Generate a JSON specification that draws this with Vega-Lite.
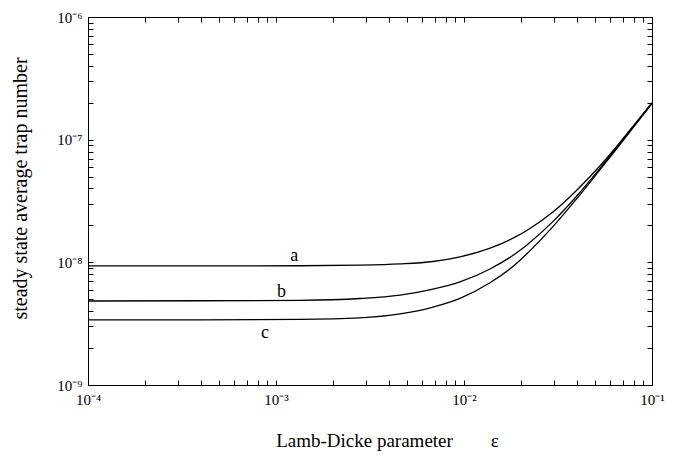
{
  "$schema": "https://vega.github.io/schema/vega-lite/v6.json",
  "width": 564,
  "height": 368,
  "autosize": "none",
  "padding": {"left": 88, "top": 17, "right": 30, "bottom": 71},
  "background": "white",
  "config": {
    "view": {"stroke": null},
    "font": "Liberation Serif",
    "axis": {
      "domainColor": "black",
      "domainWidth": 1,
      "tickColor": "black",
      "tickWidth": 1,
      "tickSize": -5,
      "grid": false,
      "labelFont": "Liberation Serif",
      "labelFontSize": 15,
      "labelColor": "black",
      "labelOverlap": false,
      "labelBound": false,
      "labelFlush": false,
      "titleFont": "Liberation Serif",
      "titleFontSize": 19,
      "titleFontWeight": "normal",
      "titleColor": "black"
    }
  },
  "datasets": {
    "curves": [
      {"s": "a", "eps": 0.0001, "n": 9.35e-9},
      {"s": "a", "eps": 0.000394, "n": 9.35e-9},
      {"s": "a", "eps": 0.00134, "n": 9.38e-9},
      {"s": "a", "eps": 0.0028, "n": 9.48e-9},
      {"s": "a", "eps": 0.00457, "n": 9.7e-9},
      {"s": "a", "eps": 0.00684, "n": 1.016e-8},
      {"s": "a", "eps": 0.00952, "n": 1.109e-8},
      {"s": "a", "eps": 0.01375, "n": 1.303e-8},
      {"s": "a", "eps": 0.01866, "n": 1.603e-8},
      {"s": "a", "eps": 0.0216, "n": 1.82e-8},
      {"s": "a", "eps": 0.0297, "n": 2.57e-8},
      {"s": "a", "eps": 0.0399, "n": 3.89e-8},
      {"s": "a", "eps": 0.0528, "n": 6.095e-8},
      {"s": "a", "eps": 0.0621, "n": 8.128e-8},
      {"s": "a", "eps": 0.0764, "n": 1.202e-7},
      {"s": "a", "eps": 0.1, "n": 1.995e-7},
      {"s": "b", "eps": 0.0001, "n": 4.84e-9},
      {"s": "b", "eps": 0.000394, "n": 4.86e-9},
      {"s": "b", "eps": 0.00134, "n": 4.9e-9},
      {"s": "b", "eps": 0.0028, "n": 5.07e-9},
      {"s": "b", "eps": 0.00457, "n": 5.4e-9},
      {"s": "b", "eps": 0.00684, "n": 6.04e-9},
      {"s": "b", "eps": 0.00952, "n": 6.93e-9},
      {"s": "b", "eps": 0.01375, "n": 8.83e-9},
      {"s": "b", "eps": 0.01866, "n": 1.169e-8},
      {"s": "b", "eps": 0.0216, "n": 1.387e-8},
      {"s": "b", "eps": 0.0297, "n": 2.148e-8},
      {"s": "b", "eps": 0.0399, "n": 3.491e-8},
      {"s": "b", "eps": 0.0528, "n": 5.821e-8},
      {"s": "b", "eps": 0.0621, "n": 7.907e-8},
      {"s": "b", "eps": 0.0764, "n": 1.18e-7},
      {"s": "b", "eps": 0.1, "n": 1.995e-7},
      {"s": "c", "eps": 0.0001, "n": 3.4e-9},
      {"s": "c", "eps": 0.000394, "n": 3.4e-9},
      {"s": "c", "eps": 0.00134, "n": 3.43e-9},
      {"s": "c", "eps": 0.0028, "n": 3.53e-9},
      {"s": "c", "eps": 0.00457, "n": 3.8e-9},
      {"s": "c", "eps": 0.00684, "n": 4.32e-9},
      {"s": "c", "eps": 0.00952, "n": 5.09e-9},
      {"s": "c", "eps": 0.01375, "n": 6.82e-9},
      {"s": "c", "eps": 0.01866, "n": 9.55e-9},
      {"s": "c", "eps": 0.0216, "n": 1.175e-8},
      {"s": "c", "eps": 0.0297, "n": 1.954e-8},
      {"s": "c", "eps": 0.0399, "n": 3.319e-8},
      {"s": "c", "eps": 0.0528, "n": 5.662e-8},
      {"s": "c", "eps": 0.0621, "n": 7.745e-8},
      {"s": "c", "eps": 0.0764, "n": 1.161e-7},
      {"s": "c", "eps": 0.1, "n": 1.972e-7}
    ],
    "labels": [
      {"s": "a", "eps": 0.00125, "n": 1.13e-8},
      {"s": "b", "eps": 0.00107, "n": 5.77e-9},
      {"s": "c", "eps": 0.000874, "n": 2.64e-9}
    ]
  },
  "layer": [
    {
      "data": {"name": "curves"},
      "mark": {"type": "line", "color": "black", "strokeWidth": 1.3, "interpolate": "monotone"},
      "encoding": {
        "x": {
          "field": "eps", "type": "quantitative",
          "scale": {"type": "log", "domain": [0.0001, 0.1], "nice": false},
          "axis": {
            "orient": "bottom",
            "title": "Lamb-Dicke parameter\u00a0\u00a0\u00a0\u00a0\u00a0\u00a0\u00a0\u00a0ε",
            "titleX": 299, "titleY": 61, "titleAnchor": null, "titleAlign": "center", "titleBaseline": "alphabetic",
            "values": [0.0001,0.0002,0.0003,0.0004,0.0005,0.0006,0.0007,0.0008,0.0009,0.001,0.002,0.003,0.004,0.005,0.006,0.007,0.008,0.009,0.01,0.02,0.03,0.04,0.05,0.06,0.07,0.08,0.09,0.1],
            "labelExpr": "datum.value < 0.00015 ? '10⁻⁴' : (abs(datum.value-0.001) < 1e-7 ? '10⁻³' : (abs(datum.value-0.01) < 1e-6 ? '10⁻²' : (abs(datum.value-0.1) < 1e-5 ? '10⁻¹' : '')))",
            "labelPadding": 12
          }
        },
        "y": {
          "field": "n", "type": "quantitative",
          "scale": {"type": "log", "domain": [1e-9, 1e-6], "nice": false},
          "axis": {
            "orient": "left",
            "title": "steady state average trap number",
            "titleX": -68, "titleY": 171, "titleAngle": -90, "titleAlign": "center", "titleBaseline": "middle",
            "titleFontSize": 20,
            "values": [1e-9,2e-9,3e-9,4e-9,5e-9,6e-9,7e-9,8e-9,9e-9,1e-8,2e-8,3e-8,4e-8,5e-8,6e-8,7e-8,8e-8,9e-8,1e-7,2e-7,3e-7,4e-7,5e-7,6e-7,7e-7,8e-7,9e-7,1e-6],
            "labelExpr": "datum.value < 1.5e-9 ? '10⁻⁹' : (abs(datum.value-1e-8) < 1e-12 ? '10⁻⁸' : (abs(datum.value-1e-7) < 1e-11 ? '10⁻⁷' : (abs(datum.value-1e-6) < 1e-10 ? '10⁻⁶' : '')))",
            "labelPadding": 11
          }
        },
        "detail": {"field": "s"}
      }
    },
    {
      "data": {"name": "curves"},
      "mark": {"type": "line", "opacity": 0},
      "encoding": {
        "x": {
          "field": "eps", "type": "quantitative",
          "scale": {"type": "log", "domain": [0.0001, 0.1], "nice": false},
          "axis": {
            "orient": "top", "title": null, "labels": false,
            "values": [0.0001,0.0002,0.0003,0.0004,0.0005,0.0006,0.0007,0.0008,0.0009,0.001,0.002,0.003,0.004,0.005,0.006,0.007,0.008,0.009,0.01,0.02,0.03,0.04,0.05,0.06,0.07,0.08,0.09,0.1]
          }
        },
        "y": {
          "field": "n", "type": "quantitative",
          "scale": {"type": "log", "domain": [1e-9, 1e-6], "nice": false},
          "axis": {
            "orient": "right", "title": null, "labels": false,
            "values": [1e-9,2e-9,3e-9,4e-9,5e-9,6e-9,7e-9,8e-9,9e-9,1e-8,2e-8,3e-8,4e-8,5e-8,6e-8,7e-8,8e-8,9e-8,1e-7,2e-7,3e-7,4e-7,5e-7,6e-7,7e-7,8e-7,9e-7,1e-6]
          }
        },
        "detail": {"field": "s"}
      }
    },
    {
      "data": {"name": "labels"},
      "mark": {"type": "text", "font": "Liberation Serif", "fontSize": 18, "color": "black", "align": "center", "baseline": "middle"},
      "encoding": {
        "x": {"field": "eps", "type": "quantitative", "scale": {"type": "log", "domain": [0.0001, 0.1], "nice": false}, "axis": null},
        "y": {"field": "n", "type": "quantitative", "scale": {"type": "log", "domain": [1e-9, 1e-6], "nice": false}, "axis": null},
        "text": {"field": "s"}
      }
    }
  ],
  "resolve": {"axis": {"x": "independent", "y": "independent"}}
}
